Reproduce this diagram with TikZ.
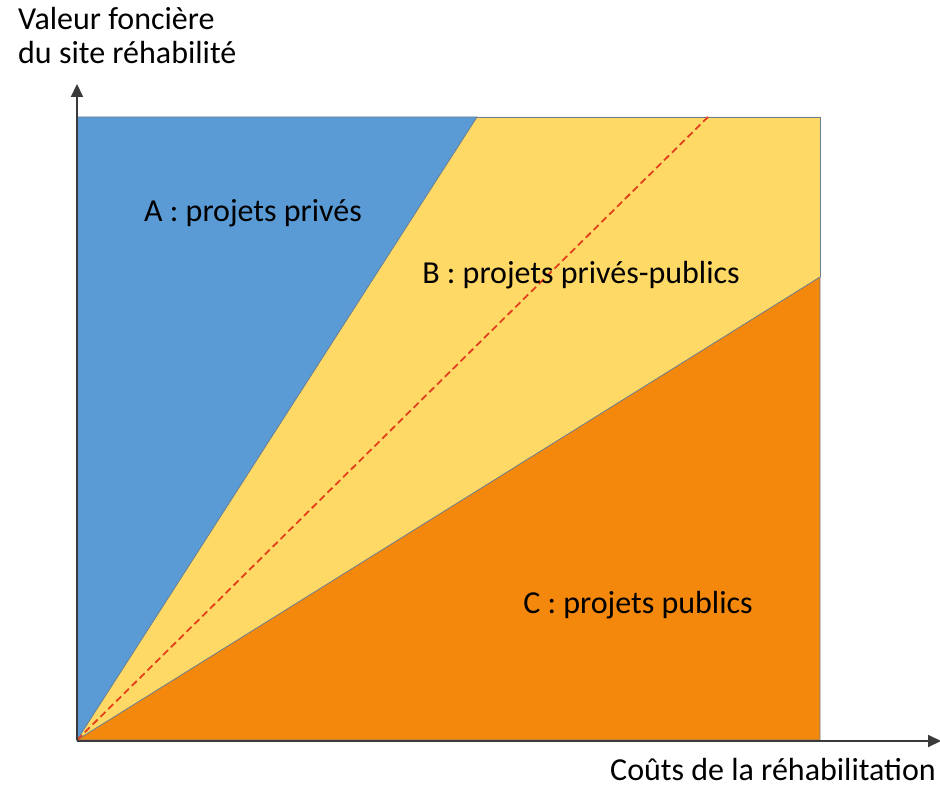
\documentclass[tikz,border=0pt]{standalone}
\usepackage{fontspec}
\setmainfont{Carlito}
\usetikzlibrary{arrows.meta}
\definecolor{zoneA}{HTML}{5B9BD5}
\definecolor{zoneB}{HTML}{FFD966}
\definecolor{zoneC}{HTML}{F4880C}
\definecolor{edgecol}{HTML}{6B7F90}
\definecolor{axiscol}{HTML}{3A3A3A}
\definecolor{redline}{HTML}{E2401C}
\tikzset{
  zone/.style={draw=edgecol, line width=0.8pt, line join=miter},
  axisline/.style={draw=axiscol, line width=2pt, -{Triangle[length=13pt,width=12pt]}},
  lbl/.style={font=\fontsize{32}{38}\selectfont, text=black, inner sep=0pt, anchor=base},
  axlbl/.style={font=\fontsize{32}{38}\selectfont, text=black, inner sep=0pt, anchor=base west, align=left},
}
\begin{document}
\begin{tikzpicture}[x=1pt,y=-1pt]
\useasboundingbox (0,0) rectangle (940,789);
\coordinate (O) at (77,740);
\coordinate (TL) at (77,117);
\coordinate (TAB) at (477,117);
\coordinate (TR) at (820,117);
\coordinate (RBC) at (820,277);
\coordinate (BR) at (820,740);
\coordinate (TD) at (708,117);
\coordinate (YT) at (77,84);
\coordinate (XT) at (941,741);
\coordinate (Y0) at (77,741);
% zones
\fill[zoneB] (O) -- (TAB) -- (TR) -- (RBC) -- cycle;
\draw[edgecol, line width=0.8pt] (TAB) -- (TR) -- (RBC);
\filldraw[zone, fill=zoneA] (O) -- (TL) -- (TAB) -- cycle;
\filldraw[zone, fill=zoneC] (O) -- (RBC) -- (BR) -- cycle;
% diagonal
\draw[redline, line width=1.8pt, dash pattern=on 7pt off 4pt] (O) -- (TD);
% axes
\draw[axisline] (O) -- (YT);
\draw[axisline] (Y0) -- (XT);
% labels
\node[lbl] (A) at (253,222) {A : projets privés};
\node[lbl] (B) at (581,283) {B : projets privés-publics};
\node[lbl] (C) at (638,613) {C : projets publics};
\node[axlbl, anchor=base east] (xl) at (936,780) {Coûts de la réhabilitation};
\node[axlbl] (yl1) at (18,30) {Valeur foncière};
\node[axlbl] (yl2) at (18,64) {du site réhabilité};
\end{tikzpicture}
\end{document}
